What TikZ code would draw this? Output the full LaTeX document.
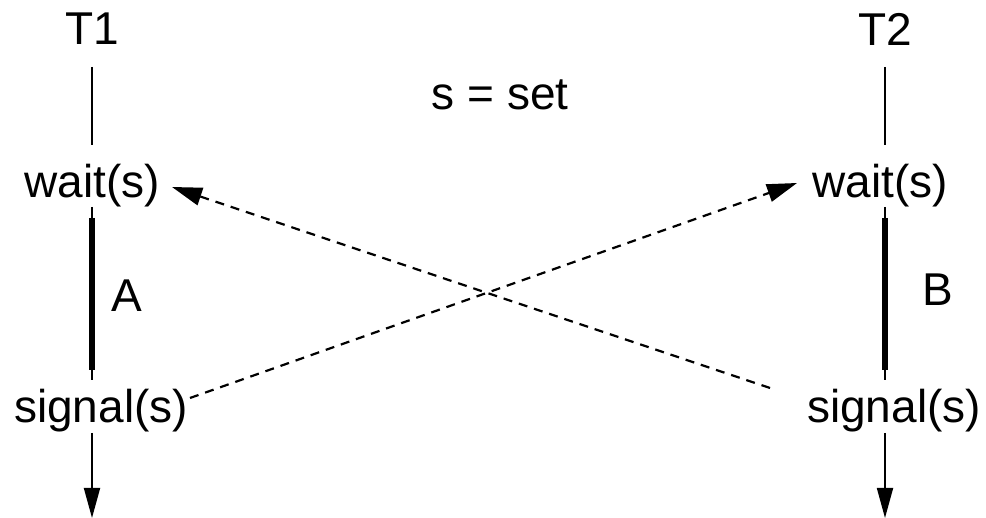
\documentclass[tikz,border=0pt]{standalone}
\usepackage{fontspec}
\setmainfont{Liberation Sans}
\usetikzlibrary{arrows.meta}
\begin{document}
\begin{tikzpicture}[x=1pt,y=-1pt,
  lbl/.style={inner sep=0pt,font=\fontsize{46}{50}\selectfont},
  life/.style={line width=1.8pt},
  crit/.style={line width=6pt},
  msg/.style={line width=2.2pt,dash pattern=on 9pt off 7pt,-{Triangle[length=30pt,width=18pt]}},
  fin/.style={line width=1.8pt,-{Triangle[length=30pt,width=16pt]}}]
\useasboundingbox (0,0) rectangle (986,518);
% labels
\node[lbl] (T1) at (92,29) {T1};
\node[lbl] (T2) at (885,29) {T2};
\node[lbl] (set) at (500,95) {s = set};
\node[lbl] (w1) at (92,186) {wait(s)};
\node[lbl] (w2) at (880,186) {wait(s)};
\node[lbl] (s1) at (101,411) {signal(s)};
\node[lbl] (s2) at (894,411) {signal(s)};
\node[lbl] (A) at (127,296) {A};
\node[lbl] (B) at (938,290) {B};
% lifeline points
\coordinate (a0) at (92,67);  \coordinate (a1) at (92,145);
\coordinate (a2) at (92,207); \coordinate (a3) at (92,380);
\coordinate (a4) at (92,433); \coordinate (a5) at (92,518);
\coordinate (b0) at (885,67);  \coordinate (b1) at (885,145);
\coordinate (b2) at (885,207); \coordinate (b3) at (885,380);
\coordinate (b4) at (885,433); \coordinate (b5) at (885,518);
\draw[life] (a0) -- (a1);
\draw[life] (a2) -- (a3);
\draw[crit] (92,218) -- (92,370);
\draw[fin] (a4) -- (a5);
\draw[life] (b0) -- (b1);
\draw[life] (b2) -- (b3);
\draw[crit] (885,218) -- (885,370);
\draw[fin] (b4) -- (b5);
% messages
\coordinate (m1s) at (770,388); \coordinate (m1e) at (172,187);
\coordinate (m2s) at (190,398); \coordinate (m2e) at (797,183);
\draw[msg] (m1s) -- (m1e);
\draw[msg] (m2s) -- (m2e);
\end{tikzpicture}
\end{document}
